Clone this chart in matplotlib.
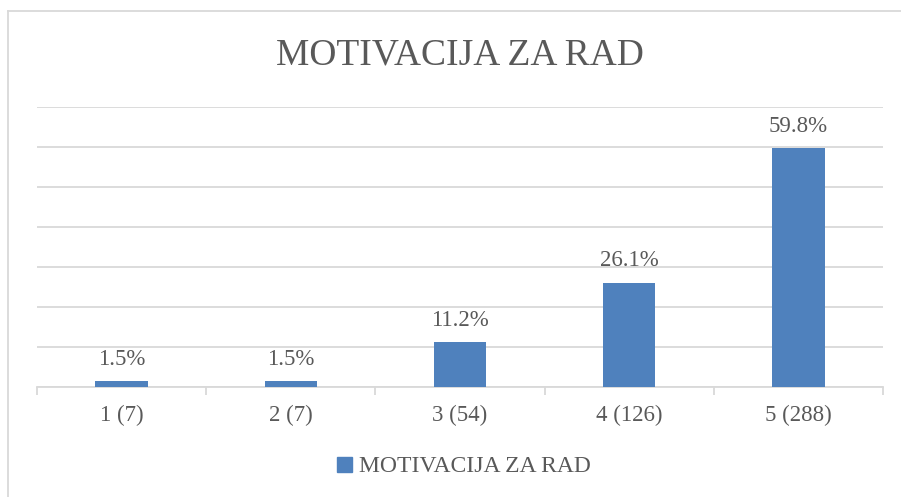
import matplotlib
matplotlib.use("Agg")
import matplotlib.pyplot as plt
from matplotlib.patches import Patch
from matplotlib.lines import Line2D

categories = ["1 (7)", "2 (7)", "3 (54)", "4 (126)", "5 (288)"]
values = [1.5, 1.5, 11.2, 26.1, 59.8]
labels = ["1.5%", "1.5%", "11.2%", "26.1%", "59.8%"]
series_name = "MOTIVACIJA ZA RAD"
title = "MOTIVACIJA ZA RAD"

BAR = "#4F81BD"
GRID = "#D9D9D9"
TXT = "#595959"
plt.rcParams['font.family'] = ['Liberation Serif', 'DejaVu Serif']

W, H = 901, 497
fig = plt.figure(figsize=(W / 100, H / 100), dpi=100)
ax = fig.add_axes([37 / W, (H - 387) / H, (883 - 37) / W, (387 - 107) / H])

x = list(range(len(categories)))
ax.bar(x, values, width=0.31, color=BAR, zorder=3)
for xi, v, lab in zip(x, values, labels):
    ax.annotate(lab, (xi, v), xytext=(0, 8), textcoords="offset points",
                ha="center", va="bottom", fontsize=16.5, color=TXT)

ax.set_xlim(-0.5, len(categories) - 0.5)
ax.set_ylim(0, 70)
ax.set_yticks(range(0, 71, 10))
ax.yaxis.grid(True, color=GRID, linewidth=1.3, zorder=0)
ax.tick_params(axis="y", left=False, labelleft=False)
ax.set_xticks(x)
ax.set_xticklabels(categories, fontsize=16.5, color=TXT)
ax.tick_params(axis="x", which="major", length=0, pad=13)
ax.set_xticks([i - 0.5 for i in range(len(categories) + 1)], minor=True)
ax.tick_params(axis="x", which="minor", length=6, color=GRID, width=1.3)
for s in ["top", "right", "left"]:
    ax.spines[s].set_visible(False)
ax.spines["bottom"].set_color(GRID)
ax.spines["bottom"].set_linewidth(1.3)

fig.text(460 / W, (H - 55) / H, title, ha="center", va="center",
         fontsize=27, color=TXT)

handle = Patch(facecolor=BAR, edgecolor=BAR)
fig.legend([handle], [series_name], loc="center", bbox_to_anchor=(464 / W, (H - 467) / H),
           frameon=False, fontsize=17, labelcolor=TXT, handlelength=0.6,
           handleheight=0.6, handletextpad=0.3)

# outer chart border (left and top visible)
fig.add_artist(Line2D([8 / W, 8 / W], [0, (H - 11) / H], color=GRID, linewidth=1.3, transform=fig.transFigure))
fig.add_artist(Line2D([8 / W, 1], [(H - 11) / H, (H - 11) / H], color=GRID, linewidth=1.3, transform=fig.transFigure))

fig.savefig("out.png", dpi=100)
